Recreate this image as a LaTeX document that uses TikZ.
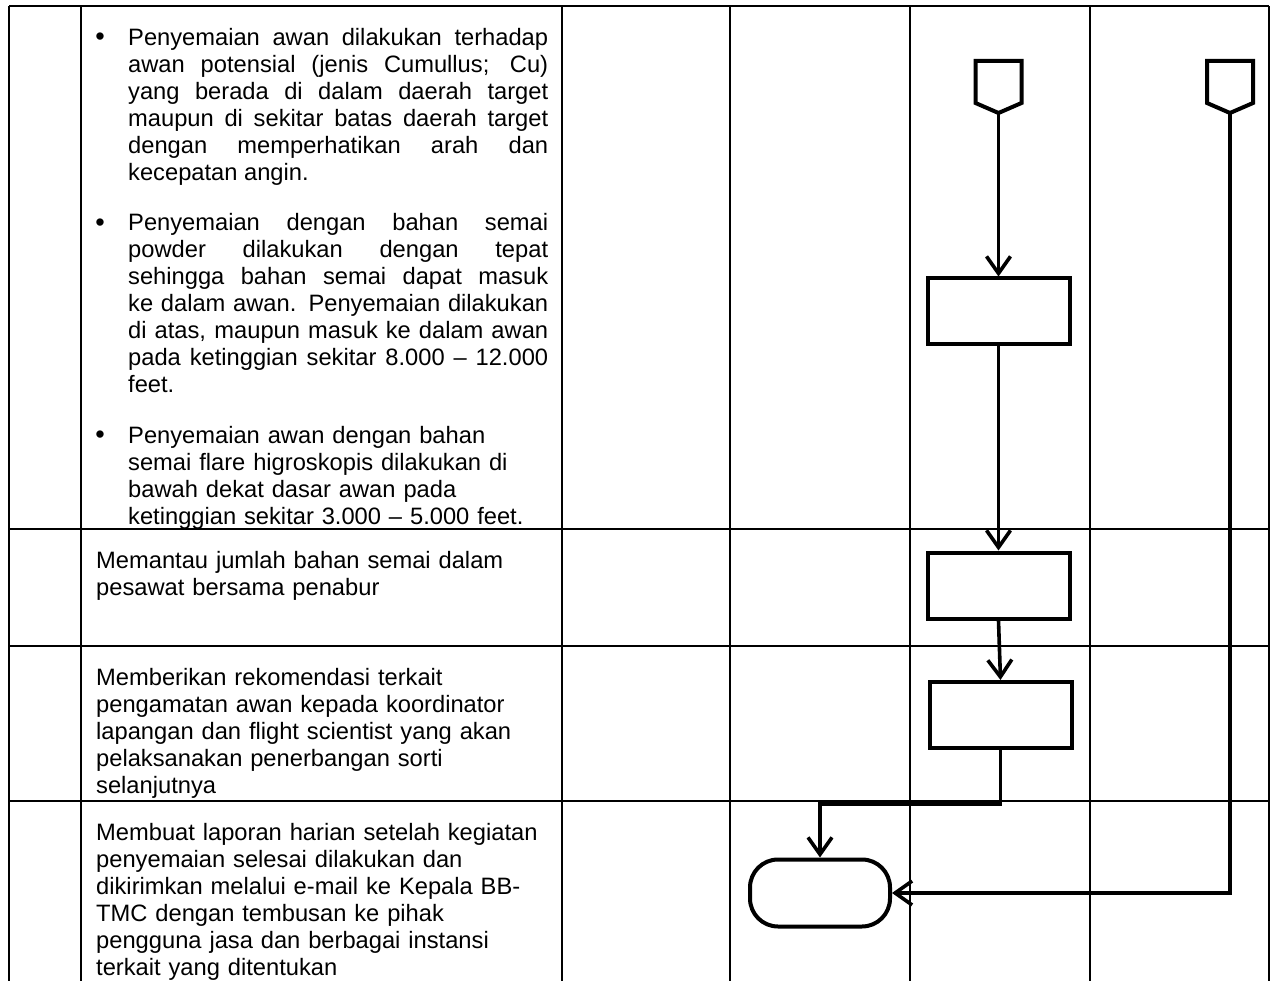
\documentclass[tikz,border=0pt]{standalone}
\usepackage{fontspec}
\setmainfont{Liberation Sans}
\usetikzlibrary{arrows.meta,positioning,calc}
\newcommand{\drawOffpage}[3]{
    \begin{scope}[shift={(#2,#3)}]
        \draw[shape line] (-23,0) -- (23,0) -- (23,42) -- (0,52) -- (-23,42) -- cycle;
        \coordinate (#1) at (0,52);
    \end{scope}
}

\begin{document}
\begin{tikzpicture}[x=1pt,y=-1pt,>={Straight Barb[length=17pt,width=24pt]},
    grid line/.style={line width=2.3pt},
    shape line/.style={line width=4pt},
    flow/.style={->,line width=3.6pt},
    procbox/.style={draw,shape line,minimum width=142pt,minimum height=66pt,inner sep=0pt},
    endbox/.style={procbox,minimum width=140pt,minimum height=67pt,rounded corners=28pt},
    cell/.style={anchor=north west,inner sep=0pt,font=\fontsize{23.7}{27}\selectfont,text width=452pt,align=left},
    bullet text/.style={cell,text width=420pt,align=justify},
    dot/.style={anchor=base,inner sep=0pt,font=\fontsize{27}{27}\selectfont}]

            \useasboundingbox (0,0) rectangle (1275,981);

            % --- Table ---
            \draw[grid line] (9,6) -- (1269,6);
            \foreach \y in {529,646,801}
                \draw[grid line] (9,\y) -- (1269,\y);
            \foreach \x in {9,81,562,730,910,1090,1269}
                \draw[grid line] (\x,6) -- (\x,981);

            % --- Row texts ---
            \node[dot] (dotA) at (100,46) {\textbullet};
            \node[bullet text] (seedA) at (128,26.1) {\strut Penyemaian awan dilakukan terhadap\linebreak awan potensial (jenis Cumullus; Cu)\linebreak yang berada di dalam daerah target\linebreak maupun di sekitar batas daerah target\linebreak dengan memperhatikan arah dan\linebreak kecepatan angin.};

            \node[dot] (dotB) at (100,231.5) {\textbullet};
            \node[bullet text] (seedB) at (128,211.6) {\strut Penyemaian dengan bahan semai\linebreak powder dilakukan dengan tepat\linebreak sehingga bahan semai dapat masuk\linebreak ke dalam awan. Penyemaian dilakukan\linebreak di atas, maupun masuk ke dalam awan\linebreak pada ketinggian sekitar 8.000 – 12.000\linebreak feet.};

            \node[dot] (dotC) at (100,444) {\textbullet};
            \node[cell,text width=420pt] (seedC) at (128,424.1) {\strut Penyemaian awan dengan bahan\\ semai flare higroskopis dilakukan di\\ bawah dekat dasar awan pada\\ ketinggian sekitar 3.000 – 5.000 feet.};

            \node[cell] (watch) at (96,549.1) {\strut Memantau jumlah bahan semai dalam\\ pesawat bersama penabur};

            \node[cell] (advise) at (96,666.1) {\strut Memberikan rekomendasi terkait\\ pengamatan awan kepada koordinator\\ lapangan dan flight scientist yang akan\\ pelaksanakan penerbangan sorti\\ selanjutnya};

            \node[cell] (report) at (96,821.1) {\strut Membuat laporan harian setelah kegiatan\\ penyemaian selesai dilakukan dan\\ dikirimkan melalui e-mail ke Kepala BB-\\ TMC dengan tembusan ke pihak\\ pengguna jasa dan berbagai instansi\\ terkait yang ditentukan};

            % --- Flow shapes ---
            \drawOffpage{offA}{998.5}{61}
            \drawOffpage{offB}{1230}{61}

            \node[procbox] (boxA) at (998.5,311.5) {};
            \node[procbox] (boxB) at (998.5,585.5) {};
            \node[procbox] (boxC) at (1000.5,715) {};
            \node[endbox] (finish) at (820,893) {};

            % --- Connectors ---
            \draw[flow] (offA) -- (boxA.north);
            \draw[flow] (boxA.south) -- (boxB.north);
            \draw[flow] (boxB.south) -- (boxC.north);
            \draw[flow] (boxC.south) -- ++(0,54) -| (finish.north);
            \draw[flow] (offB) |- (finish.east);

        \end{tikzpicture}
\end{document}
